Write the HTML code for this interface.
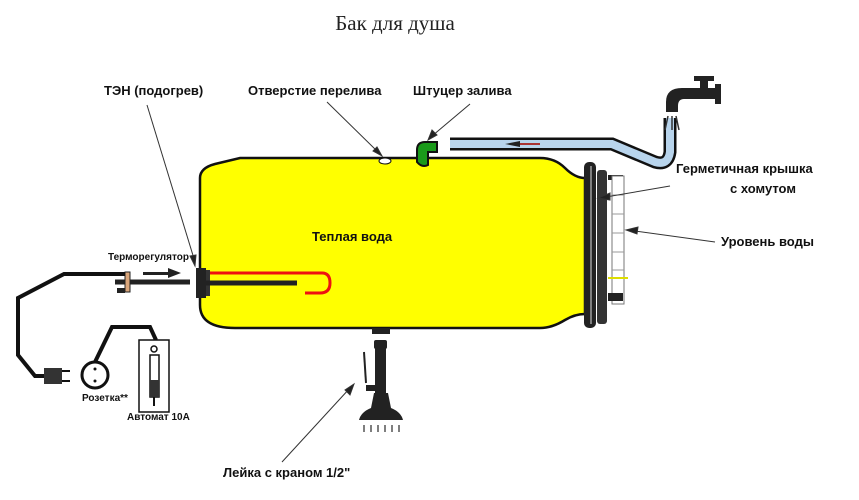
<!DOCTYPE html>
<html><head><meta charset="utf-8"><style>
body{margin:0;background:#fff;width:859px;height:495px;overflow:hidden}
svg text{font-family:"Liberation Sans",sans-serif;font-weight:bold;font-size:13px;fill:#111}
</style></head><body>
<svg width="859" height="495" viewBox="0 0 859 495">
<text x="395" y="30" text-anchor="middle" style="font-family:'Liberation Serif',serif;font-weight:normal;font-size:21px;fill:#222">Бак для душа</text>
<!-- pipe -->
<path d="M450 144 L612 144 L655 162 Q668 166 670 152 L670 118" fill="none" stroke="#111" stroke-width="13"/>
<path d="M450 144 L612 144 L655 162 Q668 166 670 152 L670 118" fill="none" stroke="#b8d4ec" stroke-width="8"/>
<path d="M505 144 L520 141 L520 147Z" fill="#222"/><line x1="520" y1="144" x2="540" y2="144" stroke="#a33" stroke-width="2"/>
<!-- faucet -->
<path d="M666 112 L666 102 Q666 88 682 88 L718 88 L718 99 L684 99 Q678 99 678 106 L678 112Z" fill="#222"/>
<rect x="700" y="80" width="8" height="10" fill="#222"/>
<rect x="694" y="76" width="20" height="5" fill="#222"/>
<rect x="715" y="84" width="6" height="20" fill="#222"/>
<path d="M668 116 l-3 14 M672 116 l0 14 M676 116 l3 14" stroke="#333" stroke-width="1.5"/>
<!-- tank -->
<path d="M240 158 L540 158 Q555 158 565 168 Q575 178 585 178 L585 314 Q575 314 565 320 Q552 328 540 328 L235 328 Q200 328 200 305 L200 178 Q200 168 215 164Z" fill="#ffff00" stroke="#111" stroke-width="2.5"/>
<!-- flange -->
<rect x="584" y="162" width="12" height="166" rx="5" fill="#222"/>
<line x1="591" y1="166" x2="591" y2="324" stroke="#ddd" stroke-width="1"/>
<rect x="597" y="170" width="10" height="154" rx="3" fill="#333"/>
<rect x="608" y="175" width="15" height="5" fill="#222"/>
<rect x="612" y="176" width="12" height="128" fill="#fff" stroke="#777" stroke-width="1"/>
<path d="M612 195h12M612 214h12M612 233h12M612 252h12M612 270h12" stroke="#999"/>
<line x1="608" y1="278" x2="628" y2="278" stroke="#dd0" stroke-width="2"/>
<rect x="608" y="293" width="15" height="8" fill="#222"/>
<!-- overflow hole & fitting -->
<ellipse cx="385" cy="161" rx="6" ry="3" fill="#fff" stroke="#111"/>
<path d="M417 162 L417 150 Q417 142 425 142 L437 142 L437 152 L428 152 L428 165 Q422 168 417 162Z" fill="#1a9a1a" stroke="#111" stroke-width="2"/>
<!-- heater -->
<rect x="196" y="268" width="10" height="30" fill="#222"/>
<rect x="206" y="270" width="4" height="26" fill="#333"/>
<path d="M210 273 L322 273 Q330 273 330 283 Q330 293 320 293 L305 293" fill="none" stroke="#e11" stroke-width="3"/>
<line x1="206" y1="283" x2="297" y2="283" stroke="#222" stroke-width="5"/>
<!-- thermoregulator -->
<line x1="115" y1="282" x2="190" y2="282" stroke="#222" stroke-width="5"/>
<rect x="125" y="272" width="5" height="20" fill="#d9a57a" stroke="#222"/>
<path d="M117 288 h8 v5 h-8z" fill="#222"/>
<path d="M143 272 L168 272 L168 268 L181 273 L168 278 L168 275 L143 275Z" fill="#222"/>
<text x="108" y="260" style="font-size:10px">Терморегулятор</text>
<!-- wires -->
<path d="M125 274 L64 274 L18 298 L18 355 L35 376 L50 376" fill="none" stroke="#111" stroke-width="4"/>
<rect x="44" y="368" width="18" height="16" fill="#333"/>
<path d="M62 371 h8 M62 381 h8" stroke="#111" stroke-width="2"/>
<circle cx="95" cy="375" r="13" fill="#fff" stroke="#111" stroke-width="3"/>
<circle cx="95" cy="369" r="1.5" fill="#111"/><circle cx="95" cy="381" r="1.5" fill="#111"/>
<path d="M95 362 L112 327 L150 327 L156 340" fill="none" stroke="#111" stroke-width="4"/>
<rect x="139" y="340" width="30" height="72" fill="#fff" stroke="#111" stroke-width="1.5"/>
<circle cx="154" cy="349" r="3" fill="#fff" stroke="#111" stroke-width="1.5"/>
<rect x="150" y="355" width="9" height="42" fill="#fff" stroke="#111" stroke-width="1.5"/>
<rect x="150" y="380" width="9" height="17" fill="#333"/>
<line x1="154" y1="397" x2="154" y2="406" stroke="#111" stroke-width="2"/>
<text x="82" y="401" style="font-size:10px">Розетка**</text>
<text x="127" y="420" style="font-size:10px">Автомат 10А</text>
<!-- shower -->
<rect x="372" y="328" width="18" height="6" fill="#222"/>
<rect x="374" y="340" width="13" height="9" rx="2" fill="#222"/>
<rect x="375" y="348" width="11" height="45" fill="#222"/>
<rect x="366" y="385" width="12" height="6" fill="#222"/>
<path d="M374 393 L388 393 L391 408 Q401 412 403 420 L359 420 Q361 412 371 408Z" fill="#222"/>
<line x1="364" y1="352" x2="366" y2="383" stroke="#222" stroke-width="2"/>
<path d="M364 425v7M371 425v7M378 425v7M385 425v7M392 425v7M399 425v7" stroke="#555" stroke-width="1.5"/>
<!-- labels -->
<text x="104" y="95">ТЭН (подогрев)</text>
<text x="248" y="95">Отверстие перелива</text>
<text x="413" y="95">Штуцер залива</text>
<text x="676" y="173">Герметичная крышка</text>
<text x="730" y="193">с хомутом</text>
<text x="721" y="246">Уровень воды</text>
<text x="312" y="241">Теплая вода</text>
<text x="223" y="477">Лейка с краном 1/2"</text>
<!-- leaders -->
<g stroke="#333" stroke-width="1" fill="#222">
<line x1="147" y1="105" x2="195" y2="262"/><path d="M195 266 l-5 -10 l6 -1z"/>
<line x1="327" y1="102" x2="378" y2="152"/><path d="M382 156 l-9 -5 l4 -4z"/>
<line x1="470" y1="104" x2="432" y2="136"/><path d="M428 140 l4 -10 l5 5z"/>
<line x1="670" y1="186" x2="600" y2="198"/><path d="M598 198 l12 -5 l0 7z"/>
<line x1="715" y1="242" x2="628" y2="230"/><path d="M626 230 l12 -3 l-1 7z"/>
<line x1="282" y1="462" x2="350" y2="388"/><path d="M354 384 l-4 11 l-5 -5z"/>
</g>
</svg>
</body></html>
